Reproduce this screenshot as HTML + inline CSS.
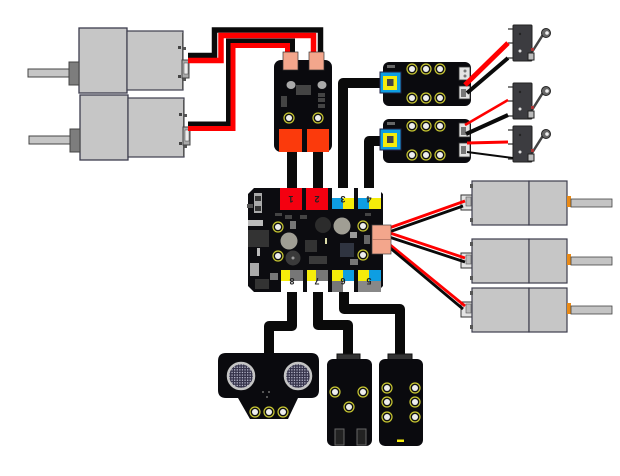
<!DOCTYPE html>
<html><head><meta charset="utf-8"><style>html,body{margin:0;padding:0;background:#fff}svg{display:block}</style></head><body>
<svg width="620" height="476" viewBox="0 0 620 476" xmlns="http://www.w3.org/2000/svg" xmlns:xlink="http://www.w3.org/1999/xlink">
<defs>
<pattern id="grid" width="2.600" height="2.600" patternUnits="userSpaceOnUse"><rect width="2.600" height="2.600" fill="#35334a"/><rect width="1.300" height="1.300" fill="#b4b4c8"/></pattern>
<g id="h"><circle r="5" fill="#111" stroke="#c9c832" stroke-width="1.2"/><circle r="3" fill="#eee"/></g>
<g id="sw">
<path d="M-5 4h6M-5 18h6M-5 33h6" stroke="#555" stroke-width="1.6"/>
<path d="M19 27L31 8" stroke="#444" stroke-width="2.500"/>
<rect x="0" y="0" width="19" height="36" rx="1" fill="#3c3c40" stroke="#222"/>
<circle cx="7" cy="9" r="1.200" fill="#222"/><circle cx="7" cy="26" r="1.500" fill="#ddd"/>
<rect x="15" y="28" width="6" height="7" fill="#bbb" stroke="#222"/>
<rect x="18" y="23" width="3" height="3" fill="#a33"/>
<circle cx="33" cy="8" r="4.500" fill="#666" stroke="#222"/><circle cx="34" cy="8" r="1.800" fill="#eee"/>
</g>
<g id="sb">
<rect x="3" y="0" width="88" height="44" rx="6" fill="#0a0a0e"/>
<rect x="0" y="10" width="21" height="21" fill="#0e9ee2" stroke="#224"/>
<rect x="3" y="14" width="14" height="14" fill="#f5ec0a"/>
<rect x="7" y="17" width="6.500" height="7" fill="#444"/>
<rect x="7" y="3" width="8" height="3" fill="#666"/>
<use xlink:href="#h" x="32" y="7"/><use xlink:href="#h" x="46" y="7"/><use xlink:href="#h" x="60" y="7"/>
<use xlink:href="#h" x="32" y="36"/><use xlink:href="#h" x="46" y="36"/><use xlink:href="#h" x="60" y="36"/>
</g>
<g id="mr">
<rect x="-11" y="14" width="12" height="15" fill="#e4e4e4" stroke="#333"/>
<rect x="-6" y="16" width="5" height="9" fill="#bbb" stroke="#555" stroke-width=".6"/>
<rect x="0" y="0" width="57" height="44" fill="#c6c6c6" stroke="#3d3d4d" stroke-width="1.200"/>
<rect x="57" y="0" width="38" height="44" fill="#c6c6c6" stroke="#3d3d4d" stroke-width="1.200"/>
<rect x="95" y="15" width="4" height="11" fill="#e98a17"/>
<rect x="99" y="18" width="41" height="8" fill="#c4c4c4" stroke="#444" stroke-width=".8"/>
<rect x="-2" y="3" width="3" height="4" fill="#555"/><rect x="-2" y="37" width="3" height="4" fill="#555"/>
</g>
<g id="ml">
<rect x="0" y="0" width="48" height="65" fill="#c6c6c6" stroke="#3d3d4d" stroke-width="1.300"/>
<rect x="48" y="3" width="56" height="59" fill="#c6c6c6" stroke="#3d3d4d" stroke-width="1.200"/>
<rect x="-10" y="34" width="10" height="23" fill="#7d7d7d" stroke="#444"/>
<rect x="-51" y="41" width="41" height="8" fill="#c6c6c6" stroke="#444" stroke-width="1"/>
<rect x="103" y="5" width="1.500" height="56" fill="#555"/>
<rect x="104" y="19" width="3" height="3" fill="#555"/><rect x="104" y="50" width="3" height="3" fill="#555"/>
<rect x="103" y="32" width="7" height="18" fill="#aaa" stroke="#444"/>
<rect x="105" y="35" width="4" height="11" fill="#eee" stroke="#444" stroke-width=".5"/>
<rect x="99" y="18" width="3" height="3" fill="#444"/><rect x="99" y="47" width="3" height="3" fill="#444"/>
</g>
</defs>

<use xlink:href="#ml" x="79" y="28"/>
<use xlink:href="#ml" x="80" y="95"/>

<g fill="none" stroke-linejoin="miter">
<path d="M188 55.500H214.500V30H320.500V52" stroke="#0a0a0a" stroke-width="5.500"/>
<path d="M188 60.500H221V35.500H313.500V52" stroke="#f00" stroke-width="5.500"/>
<path d="M188 124H228.500V41H292.500V52" stroke="#0a0a0a" stroke-width="5"/>
<path d="M188 128.500H233V45.500H287.500V52" stroke="#f00" stroke-width="5"/>
</g>

<g fill="none" stroke="#0a0a0a" stroke-width="10" stroke-linejoin="round">
<path d="M292 150V192M318 150V192"/>
<path d="M343 192V83H384"/>
<path d="M369 192V141H384"/>
<path d="M292 288V326H269V358"/>
<path d="M318 288V325H348V358"/>
<path d="M344 288V309H400V358"/>
</g>

<rect x="274" y="60" width="58" height="92" rx="7" fill="#0a0a0e"/>
<rect x="283" y="52" width="15" height="18" fill="#f3a68c" stroke="#333" stroke-width=".7"/>
<rect x="309" y="52" width="15" height="18" fill="#f3a68c" stroke="#333" stroke-width=".7"/>
<ellipse cx="291" cy="85" rx="4.500" ry="4" fill="#aaa"/><ellipse cx="322" cy="85" rx="4.500" ry="4" fill="#aaa"/>
<rect x="296" y="85" width="15" height="10" fill="#444"/>
<rect x="281" y="96" width="6" height="11" fill="#444"/>
<rect x="318" y="93" width="7" height="4" fill="#444"/><rect x="318" y="98" width="7" height="4" fill="#444"/><rect x="318" y="104" width="7" height="4" fill="#444"/>
<use xlink:href="#h" x="289" y="118"/><use xlink:href="#h" x="318" y="118"/>
<rect x="279" y="129" width="23" height="23" fill="#fb3a0c"/>
<rect x="307" y="129" width="22" height="23" fill="#fb3a0c"/>

<use xlink:href="#sb" x="380" y="62"/>
<use xlink:href="#sb" x="380" y="119"/>
<g fill="#e4e4e4" stroke="#333" stroke-width=".8">
<rect x="459" y="67" width="11" height="13"/><rect x="459" y="86" width="11" height="13"/>
<rect x="459" y="123" width="11" height="14"/><rect x="459" y="143" width="11" height="14"/>
</g>
<g fill="#777"><circle cx="465" cy="71" r="1.500"/><circle cx="465" cy="76" r="1.500"/><rect x="461" y="89" width="5" height="8"/><rect x="461" y="127" width="5" height="8"/><rect x="461" y="146" width="5" height="8"/></g>
<use xlink:href="#sw" x="513" y="25"/>
<use xlink:href="#sw" x="513" y="83"/>
<use xlink:href="#sw" x="513" y="126"/>
<g fill="none">
<path d="M465 85L508 43" stroke="#f00" stroke-width="5"/>
<path d="M467 93L508 58" stroke="#0a0a0a" stroke-width="4"/>
<path d="M465 125L508 100" stroke="#f00" stroke-width="2.500"/>
<path d="M466 134L508 115" stroke="#0a0a0a" stroke-width="4"/>
<path d="M467 143L508 142" stroke="#f00" stroke-width="3"/>
<path d="M467 152L513 158" stroke="#0a0a0a" stroke-width="2"/>
</g>

<use xlink:href="#mr" x="472" y="181"/>
<use xlink:href="#mr" x="472" y="239"/>
<use xlink:href="#mr" x="472" y="288"/>
<g fill="none" stroke-width="2.800">
<path d="M389 228L465 201" stroke="#f00"/><path d="M389 232L463 206" stroke="#0a0a0a"/>
<path d="M390 233L465 258" stroke="#f00"/><path d="M389 237L465 262" stroke="#0a0a0a"/>
<path d="M389 244L465 306" stroke="#f00"/><path d="M389 247L463 309" stroke="#0a0a0a"/>
</g>

<path d="M254 188H377L383 194V286L377 292H254L248 286V194Z" fill="#0c0c10"/>
<g>
<rect x="280" y="188" width="22" height="22" fill="#f40010"/>
<rect x="306" y="188" width="22" height="22" fill="#f40010"/>
<rect x="332" y="188" width="22" height="11" fill="#fff"/><rect x="332" y="198" width="11" height="11" fill="#0e9ee2"/><rect x="343" y="198" width="11" height="11" fill="#f5ec0a"/>
<rect x="358" y="188" width="23" height="11" fill="#fff"/><rect x="358" y="198" width="11" height="11" fill="#0e9ee2"/><rect x="369" y="198" width="12" height="11" fill="#f5ec0a"/>
<rect x="281" y="270" width="9" height="11" fill="#f5ec0a"/><rect x="290" y="270" width="13" height="11" fill="#777"/><rect x="281" y="281" width="22" height="11" fill="#fff"/>
<rect x="307" y="270" width="9" height="11" fill="#f5ec0a"/><rect x="316" y="270" width="12" height="11" fill="#777"/><rect x="307" y="281" width="21" height="11" fill="#fff"/>
<rect x="332" y="270" width="11" height="11" fill="#f5ec0a"/><rect x="343" y="270" width="11" height="11" fill="#0e9ee2"/><rect x="332" y="281" width="11" height="11" fill="#777"/><rect x="343" y="281" width="11" height="11" fill="#fff"/>
<rect x="358" y="270" width="11" height="11" fill="#f5ec0a"/><rect x="369" y="270" width="12" height="11" fill="#0e9ee2"/><rect x="358" y="281" width="23" height="11" fill="#888"/>
</g>
<g font-family="'Liberation Sans',sans-serif" font-size="9" font-weight="bold" fill="#222" text-anchor="middle">
<text x="291" y="202" transform="rotate(180 291 199)">1</text>
<text x="317" y="202" transform="rotate(180 317 199)">2</text>
<text x="343" y="202" transform="rotate(180 343 199)">3</text>
<text x="369" y="202" transform="rotate(180 369 199)">4</text>
<text x="292" y="284" transform="rotate(180 292 281)">8</text>
<text x="317" y="284" transform="rotate(180 317 281)">7</text>
<text x="343" y="284" transform="rotate(180 343 281)">6</text>
<text x="369" y="284" transform="rotate(180 369 281)">5</text>
</g>
<rect x="372" y="225" width="19" height="29" fill="#f3a68c" stroke="#444" stroke-width=".7"/>
<path d="M372 239.500H391" stroke="#b07060" stroke-width=".7"/>
<use xlink:href="#h" x="278" y="227"/><use xlink:href="#h" x="363" y="226"/><use xlink:href="#h" x="278" y="256"/><use xlink:href="#h" x="363" y="255"/>
<circle cx="289" cy="241" r="8.500" fill="#a09e94"/>
<circle cx="342" cy="226" r="8.500" fill="#a09e94"/>
<circle cx="323" cy="225" r="8" fill="#2c2c2c"/>
<circle cx="293" cy="258" r="7.500" fill="#3a3a3a"/><circle cx="293" cy="258" r="1.500" fill="#999"/>
<rect x="248" y="230" width="21" height="17" fill="#333"/>
<rect x="254" y="193" width="8" height="20" fill="#aaa"/><rect x="255" y="196" width="6" height="5" fill="#333"/><rect x="255" y="206" width="6" height="5" fill="#333"/>
<rect x="247" y="204" width="6" height="4" fill="#555"/>
<rect x="248" y="220" width="15" height="6" fill="#bbb"/>
<rect x="250" y="263" width="9" height="13" fill="#aaa"/>
<rect x="255" y="279" width="14" height="10" fill="#333"/>
<rect x="305" y="240" width="12" height="12" fill="#333"/>
<rect x="309" y="256" width="18" height="8" fill="#3a3a3a"/>
<rect x="340" y="243" width="14" height="14" fill="#2f3440"/>
<rect x="350" y="259" width="8" height="6" fill="#777"/>
<rect x="290" y="221" width="6" height="8" fill="#777"/>
<rect x="270" y="273" width="8" height="7" fill="#777"/>
<rect x="350" y="232" width="7" height="6" fill="#999"/>
<rect x="364" y="235" width="6" height="9" fill="#666"/>
<rect x="275" y="213" width="7" height="3" fill="#444"/><rect x="285" y="215" width="7" height="4" fill="#444"/><rect x="300" y="215" width="7" height="4" fill="#444"/><rect x="365" y="213" width="6" height="3" fill="#444"/>
<rect x="325" y="238" width="2" height="6" fill="#dda"/><rect x="257" y="248" width="3" height="8" fill="#bbb"/>

<path d="M226 353H311Q319 353 319 361V390Q319 398 311 398H298L288 419H250L238 398H226Q218 398 218 390V361Q218 353 226 353Z" fill="#0a0a0e"/>
<circle cx="241" cy="376" r="13" fill="url(#grid)" stroke="#c4c4c4" stroke-width="2.500"/>
<circle cx="298" cy="376" r="13" fill="url(#grid)" stroke="#c4c4c4" stroke-width="2.500"/>
<use xlink:href="#h" x="255" y="412"/><use xlink:href="#h" x="269" y="412"/><use xlink:href="#h" x="283" y="412"/>
<rect x="262" y="391" width="2" height="2" fill="#555"/><rect x="268" y="391" width="2" height="2" fill="#555"/><rect x="266" y="396" width="2" height="2" fill="#555"/>

<rect x="337" y="354" width="23" height="6" fill="#333" stroke="#111"/>
<rect x="327" y="359" width="45" height="87" rx="6" fill="#0a0a0e"/>
<use xlink:href="#h" x="335" y="392"/><use xlink:href="#h" x="363" y="392"/><use xlink:href="#h" x="349" y="407"/>
<rect x="335" y="429" width="9" height="16" fill="#222" stroke="#666"/><rect x="357" y="429" width="9" height="16" fill="#222" stroke="#666"/>

<rect x="388" y="354" width="24" height="6" fill="#333" stroke="#111"/>
<rect x="379" y="359" width="44" height="87" rx="6" fill="#0a0a0e"/>
<use xlink:href="#h" x="387" y="388"/><use xlink:href="#h" x="415" y="388"/><use xlink:href="#h" x="387" y="402"/><use xlink:href="#h" x="415" y="402"/><use xlink:href="#h" x="387" y="417"/><use xlink:href="#h" x="415" y="417"/>
<rect x="397" y="439.500" width="7" height="2.500" fill="#f5ec0a"/>
</svg>
</body></html>
